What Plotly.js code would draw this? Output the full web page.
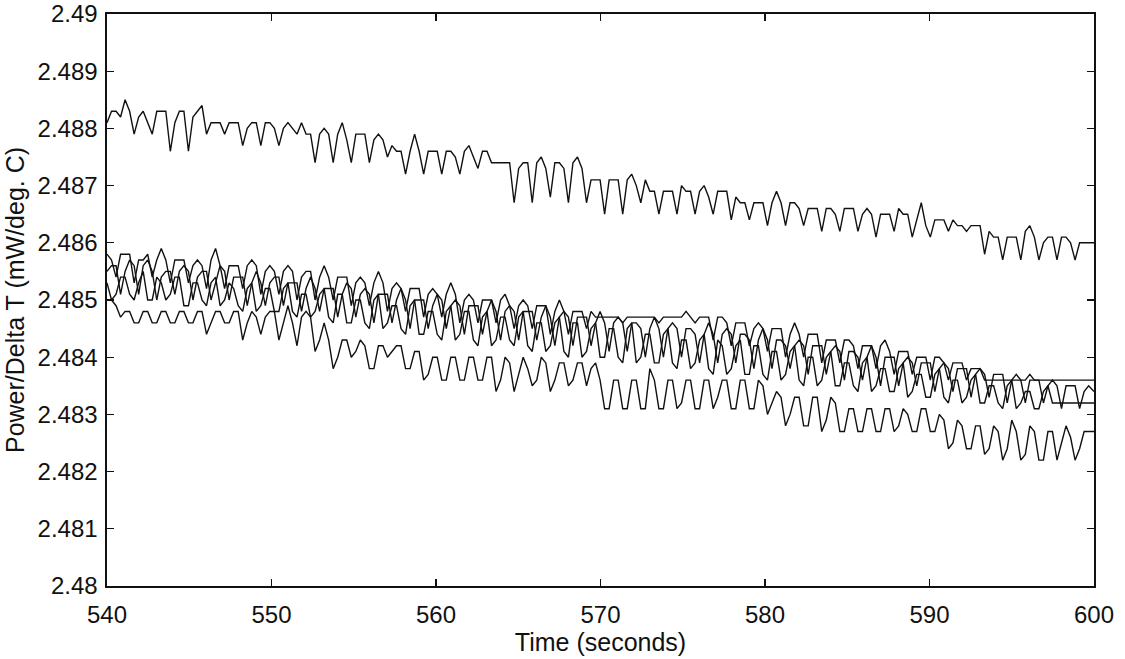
<!DOCTYPE html>
<html>
<head>
<meta charset="utf-8">
<script src="https://cdn.plot.ly/plotly-3.0.1.min.js"></script>
<style>
html,body{margin:0;padding:0;background:#fff;}
#chart{width:1125px;height:659px;}
</style>
</head>
<body>
<div id="chart"></div>
<script>
// Shared sample times (seconds)
var timeS = [
540,540.275,540.55,540.825,
541.1,541.375,541.65,541.925,
542.2,542.475,542.75,543.025,
543.3,543.575,543.85,544.125,
544.4,544.675,544.95,545.225,
545.5,545.775,546.05,546.325,
546.6,546.875,547.15,547.425,
547.7,547.975,548.25,548.525,
548.8,549.075,549.35,549.625,
549.9,550.175,550.45,550.725,
551,551.275,551.55,551.825,
552.1,552.375,552.65,552.925,
553.2,553.475,553.75,554.025,
554.3,554.575,554.85,555.125,
555.4,555.675,555.95,556.225,
556.5,556.775,557.05,557.325,
557.6,557.875,558.15,558.425,
558.7,558.975,559.25,559.525,
559.8,560.075,560.35,560.625,
560.9,561.175,561.45,561.725,
562,562.275,562.55,562.825,
563.1,563.375,563.65,563.925,
564.2,564.475,564.75,565.025,
565.3,565.575,565.85,566.125,
566.4,566.675,566.95,567.225,
567.5,567.775,568.05,568.325,
568.6,568.875,569.15,569.425,
569.7,569.975,570.25,570.525,
570.8,571.075,571.35,571.625,
571.9,572.175,572.45,572.725,
573,573.275,573.55,573.825,
574.1,574.375,574.65,574.925,
575.2,575.475,575.75,576.025,
576.3,576.575,576.85,577.125,
577.4,577.675,577.95,578.225,
578.5,578.775,579.05,579.325,
579.6,579.875,580.15,580.425,
580.7,580.975,581.25,581.525,
581.8,582.075,582.35,582.625,
582.9,583.175,583.45,583.725,
584,584.275,584.55,584.825,
585.1,585.375,585.65,585.925,
586.2,586.475,586.75,587.025,
587.3,587.575,587.85,588.125,
588.4,588.675,588.95,589.225,
589.5,589.775,590.05,590.325,
590.6,590.875,591.15,591.425,
591.7,591.975,592.25,592.525,
592.8,593.075,593.35,593.625,
593.9,594.175,594.45,594.725,
595,595.275,595.55,595.825,
596.1,596.375,596.65,596.925,
597.2,597.475,597.75,598.025,
598.3,598.575,598.85,599.125,
599.4,599.675,600
];

// Run 1 (upper trace)
var run1 = [
2.4881,2.4883,2.4883,2.4882,
2.4885,2.4883,2.4879,2.4882,
2.4883,2.4881,2.4879,2.4883,
2.4883,2.4883,2.4876,2.4881,
2.4883,2.4883,2.4876,2.4882,
2.4883,2.4884,2.4879,2.4881,
2.4881,2.4881,2.4879,2.4881,
2.4881,2.4881,2.4877,2.4880,
2.4881,2.4881,2.4877,2.4881,
2.4881,2.4880,2.4877,2.4880,
2.4881,2.4880,2.4879,2.4881,
2.4879,2.4879,2.4874,2.4879,
2.4880,2.4879,2.4874,2.4879,
2.4881,2.4878,2.4874,2.4879,
2.4879,2.4879,2.4874,2.4878,
2.4879,2.4878,2.4875,2.4877,
2.4876,2.4876,2.4872,2.4876,
2.4879,2.4876,2.4872,2.4876,
2.4876,2.4876,2.4872,2.4876,
2.4876,2.4875,2.4872,2.4876,
2.4877,2.4875,2.4873,2.4876,
2.4876,2.4874,2.4874,2.4874,
2.4874,2.4874,2.4867,2.4873,
2.4874,2.4874,2.4867,2.4874,
2.4875,2.4873,2.4868,2.4874,
2.4874,2.4873,2.4867,2.4874,
2.4875,2.4873,2.4867,2.4871,
2.4871,2.4871,2.4865,2.4871,
2.4871,2.4871,2.4865,2.4871,
2.4872,2.4870,2.4867,2.4871,
2.4869,2.4869,2.4865,2.4869,
2.4869,2.4869,2.4865,2.4870,
2.4869,2.4869,2.4865,2.4869,
2.4870,2.4868,2.4865,2.4869,
2.4869,2.4869,2.4864,2.4868,
2.4867,2.4867,2.4864,2.4867,
2.4867,2.4867,2.4863,2.4867,
2.4869,2.4867,2.4863,2.4867,
2.4867,2.4866,2.4863,2.4866,
2.4866,2.4866,2.4862,2.4866,
2.4866,2.4865,2.4862,2.4866,
2.4866,2.4866,2.4862,2.4865,
2.4866,2.4865,2.4861,2.4865,
2.4865,2.4865,2.4862,2.4866,
2.4865,2.4865,2.4861,2.4864,
2.4867,2.4863,2.4861,2.4864,
2.4864,2.4864,2.4862,2.4864,
2.4863,2.4863,2.4862,2.4863,
2.4863,2.4863,2.4858,2.4862,
2.4861,2.4861,2.4857,2.4861,
2.4861,2.4861,2.4857,2.4862,
2.4863,2.4861,2.4857,2.4860,
2.4861,2.4861,2.4857,2.4861,
2.4861,2.4860,2.4857,2.4860,
2.4860,2.4860,2.4860
];

// Run 2
var run2 = [
2.4858,2.4857,2.4854,2.4858,
2.4858,2.4858,2.4853,2.4857,
2.4857,2.4858,2.4854,2.4857,
2.4859,2.4857,2.4853,2.4857,
2.4857,2.4857,2.4853,2.4856,
2.4857,2.4856,2.4852,2.4857,
2.4859,2.4856,2.4852,2.4856,
2.4856,2.4856,2.4852,2.4856,
2.4857,2.4856,2.4851,2.4855,
2.4856,2.4855,2.4851,2.4855,
2.4856,2.4855,2.4850,2.4854,
2.4855,2.4855,2.4850,2.4854,
2.4856,2.4854,2.4850,2.4854,
2.4854,2.4854,2.4849,2.4853,
2.4854,2.4853,2.4849,2.4853,
2.4855,2.4853,2.4848,2.4852,
2.4853,2.4852,2.4848,2.4852,
2.4852,2.4852,2.4847,2.4851,
2.4852,2.4851,2.4847,2.4851,
2.4853,2.4851,2.4846,2.4850,
2.4851,2.4850,2.4846,2.4850,
2.4850,2.4850,2.4846,2.4850,
2.4851,2.4849,2.4845,2.4849,
2.4850,2.4849,2.4845,2.4849,
2.4849,2.4849,2.4844,2.4848,
2.4850,2.4848,2.4844,2.4848,
2.4848,2.4848,2.4845,2.4848,
2.4847,2.4847,2.4847,2.4847,
2.4847,2.4847,2.4846,2.4847,
2.4847,2.4847,2.4847,2.4847,
2.4847,2.4847,2.4846,2.4847,
2.4847,2.4847,2.4847,2.4847,
2.4848,2.4847,2.4846,2.4847,
2.4847,2.4847,2.4843,2.4847,
2.4847,2.4846,2.4842,2.4846,
2.4846,2.4846,2.4842,2.4845,
2.4846,2.4845,2.4841,2.4845,
2.4845,2.4845,2.4840,2.4844,
2.4846,2.4844,2.4840,2.4844,
2.4844,2.4844,2.4839,2.4843,
2.4843,2.4843,2.4839,2.4843,
2.4843,2.4842,2.4838,2.4842,
2.4842,2.4842,2.4838,2.4842,
2.4843,2.4841,2.4837,2.4841,
2.4841,2.4841,2.4837,2.4840,
2.4840,2.4840,2.4836,2.4840,
2.4840,2.4839,2.4836,2.4839,
2.4839,2.4839,2.4836,2.4838,
2.4838,2.4838,2.4836,2.4836,
2.4836,2.4836,2.4836,2.4836,
2.4836,2.4836,2.4836,2.4836,
2.4837,2.4836,2.4836,2.4836,
2.4836,2.4836,2.4836,2.4836,
2.4836,2.4836,2.4836,2.4836,
2.4836,2.4836,2.4836
];

// Run 3
var run3 = [
2.4855,2.4856,2.4856,2.4851,
2.4855,2.4857,2.4856,2.4851,
2.4856,2.4857,2.4855,2.4850,
2.4854,2.4855,2.4855,2.4851,
2.4855,2.4856,2.4855,2.4850,
2.4854,2.4855,2.4855,2.4850,
2.4853,2.4856,2.4855,2.4850,
2.4854,2.4854,2.4854,2.4849,
2.4853,2.4855,2.4853,2.4849,
2.4853,2.4854,2.4854,2.4849,
2.4853,2.4853,2.4853,2.4848,
2.4852,2.4854,2.4852,2.4848,
2.4852,2.4852,2.4852,2.4847,
2.4851,2.4853,2.4852,2.4847,
2.4851,2.4852,2.4851,2.4846,
2.4851,2.4851,2.4851,2.4846,
2.4850,2.4852,2.4850,2.4845,
2.4850,2.4850,2.4850,2.4845,
2.4849,2.4851,2.4850,2.4845,
2.4849,2.4850,2.4849,2.4844,
2.4849,2.4849,2.4849,2.4844,
2.4848,2.4850,2.4848,2.4843,
2.4848,2.4849,2.4848,2.4843,
2.4848,2.4848,2.4848,2.4843,
2.4847,2.4849,2.4847,2.4842,
2.4847,2.4848,2.4847,2.4842,
2.4847,2.4847,2.4847,2.4842,
2.4846,2.4848,2.4846,2.4841,
2.4846,2.4847,2.4846,2.4841,
2.4846,2.4846,2.4845,2.4840,
2.4845,2.4847,2.4845,2.4840,
2.4845,2.4846,2.4845,2.4840,
2.4845,2.4845,2.4844,2.4839,
2.4844,2.4846,2.4844,2.4839,
2.4844,2.4845,2.4844,2.4839,
2.4844,2.4844,2.4843,2.4838,
2.4843,2.4845,2.4843,2.4838,
2.4843,2.4843,2.4842,2.4838,
2.4842,2.4843,2.4842,2.4837,
2.4842,2.4842,2.4842,2.4837,
2.4841,2.4842,2.4841,2.4836,
2.4841,2.4841,2.4840,2.4836,
2.4840,2.4842,2.4840,2.4835,
2.4840,2.4840,2.4840,2.4835,
2.4839,2.4840,2.4839,2.4835,
2.4839,2.4839,2.4839,2.4834,
2.4838,2.4839,2.4838,2.4834,
2.4838,2.4838,2.4838,2.4833,
2.4837,2.4838,2.4837,2.4833,
2.4837,2.4837,2.4837,2.4832,
2.4836,2.4837,2.4836,2.4832,
2.4836,2.4836,2.4836,2.4832,
2.4835,2.4836,2.4835,2.4831,
2.4835,2.4835,2.4835,2.4831,
2.4834,2.4835,2.4834
];

// Run 4
var run4 = [
2.4853,2.4850,2.4851,2.4854,
2.4854,2.4851,2.4850,2.4853,
2.4855,2.4850,2.4850,2.4854,
2.4853,2.4850,2.4851,2.4854,
2.4854,2.4849,2.4849,2.4853,
2.4853,2.4850,2.4849,2.4853,
2.4854,2.4849,2.4850,2.4853,
2.4852,2.4849,2.4848,2.4852,
2.4853,2.4848,2.4849,2.4852,
2.4852,2.4848,2.4848,2.4852,
2.4853,2.4848,2.4847,2.4851,
2.4851,2.4847,2.4848,2.4851,
2.4852,2.4847,2.4846,2.4851,
2.4851,2.4846,2.4846,2.4850,
2.4850,2.4846,2.4845,2.4850,
2.4851,2.4845,2.4846,2.4849,
2.4849,2.4845,2.4844,2.4849,
2.4850,2.4844,2.4844,2.4848,
2.4848,2.4844,2.4843,2.4848,
2.4849,2.4843,2.4844,2.4848,
2.4848,2.4843,2.4842,2.4847,
2.4848,2.4842,2.4843,2.4847,
2.4847,2.4843,2.4842,2.4847,
2.4848,2.4842,2.4841,2.4846,
2.4846,2.4841,2.4842,2.4846,
2.4847,2.4841,2.4840,2.4846,
2.4846,2.4840,2.4841,2.4845,
2.4846,2.4840,2.4840,2.4845,
2.4845,2.4840,2.4839,2.4845,
2.4846,2.4839,2.4840,2.4844,
2.4844,2.4839,2.4839,2.4844,
2.4845,2.4839,2.4838,2.4843,
2.4843,2.4838,2.4839,2.4843,
2.4844,2.4838,2.4837,2.4843,
2.4842,2.4837,2.4838,2.4842,
2.4843,2.4837,2.4837,2.4842,
2.4842,2.4837,2.4836,2.4841,
2.4841,2.4836,2.4837,2.4841,
2.4842,2.4836,2.4835,2.4840,
2.4840,2.4835,2.4836,2.4840,
2.4841,2.4835,2.4835,2.4839,
2.4839,2.4835,2.4834,2.4839,
2.4840,2.4834,2.4835,2.4838,
2.4838,2.4834,2.4834,2.4838,
2.4839,2.4833,2.4834,2.4837,
2.4837,2.4833,2.4833,2.4837,
2.4838,2.4833,2.4832,2.4836,
2.4836,2.4832,2.4833,2.4836,
2.4837,2.4832,2.4832,2.4835,
2.4835,2.4832,2.4831,2.4835,
2.4836,2.4831,2.4832,2.4834,
2.4834,2.4831,2.4831,2.4834,
2.4835,2.4832,2.4832,2.4832,
2.4832,2.4832,2.4832,2.4832,
2.4832,2.4832,2.4832
];

// Run 5 (lowest trace)
var run5 = [
2.4850,2.4850,2.4849,2.4847,
2.4848,2.4848,2.4846,2.4846,
2.4848,2.4848,2.4846,2.4846,
2.4848,2.4848,2.4846,2.4846,
2.4848,2.4848,2.4846,2.4846,
2.4848,2.4848,2.4844,2.4846,
2.4848,2.4848,2.4846,2.4846,
2.4848,2.4848,2.4843,2.4846,
2.4848,2.4847,2.4844,2.4847,
2.4848,2.4848,2.4843,2.4846,
2.4849,2.4846,2.4842,2.4847,
2.4848,2.4847,2.4841,2.4843,
2.4846,2.4843,2.4838,2.4840,
2.4843,2.4843,2.4840,2.4841,
2.4843,2.4842,2.4838,2.4838,
2.4842,2.4842,2.4840,2.4841,
2.4842,2.4842,2.4838,2.4838,
2.4841,2.4841,2.4836,2.4837,
2.4840,2.4840,2.4836,2.4836,
2.4840,2.4840,2.4836,2.4836,
2.4840,2.4840,2.4836,2.4836,
2.4840,2.4840,2.4834,2.4836,
2.4840,2.4839,2.4834,2.4837,
2.4840,2.4838,2.4835,2.4836,
2.4840,2.4839,2.4834,2.4836,
2.4839,2.4839,2.4835,2.4836,
2.4839,2.4839,2.4835,2.4838,
2.4839,2.4836,2.4831,2.4831,
2.4836,2.4836,2.4831,2.4831,
2.4836,2.4836,2.4831,2.4831,
2.4838,2.4836,2.4831,2.4831,
2.4836,2.4836,2.4831,2.4832,
2.4836,2.4836,2.4831,2.4831,
2.4836,2.4836,2.4831,2.4833,
2.4836,2.4836,2.4831,2.4831,
2.4836,2.4836,2.4831,2.4831,
2.4836,2.4835,2.4830,2.4832,
2.4834,2.4833,2.4828,2.4830,
2.4833,2.4833,2.4828,2.4828,
2.4833,2.4833,2.4827,2.4829,
2.4833,2.4832,2.4827,2.4827,
2.4831,2.4831,2.4827,2.4827,
2.4831,2.4831,2.4827,2.4827,
2.4831,2.4831,2.4827,2.4828,
2.4831,2.4830,2.4827,2.4827,
2.4831,2.4831,2.4827,2.4827,
2.4830,2.4829,2.4824,2.4825,
2.4829,2.4828,2.4824,2.4824,
2.4828,2.4828,2.4823,2.4824,
2.4828,2.4827,2.4822,2.4824,
2.4829,2.4827,2.4822,2.4823,
2.4828,2.4827,2.4822,2.4822,
2.4827,2.4827,2.4822,2.4825,
2.4828,2.4826,2.4822,2.4824,
2.4827,2.4827,2.4827
];

var yTickVals = [2.48,2.481,2.482,2.483,2.484,2.485,2.486,2.487,2.488,2.489,2.49];
var yTickText = ['2.48','2.481','2.482','2.483','2.484','2.485','2.486','2.487','2.488','2.489','2.49'];
var xTickVals = [540,550,560,570,580,590,600];
var xTickText = ['540','550','560','570','580','590','600'];

var runs = [run1, run2, run3, run4, run5];
var traces = runs.map(function(r){
  return {x: timeS, y: r, type: 'scatter', mode: 'lines',
          line: {color: '#111', width: 1.4}, hoverinfo: 'skip'};
});

var fontFam = 'Liberation Sans, Arial, Helvetica, sans-serif';
var layout = {
  width: 1125, height: 659,
  margin: {l: 107, r: 31, t: 14, b: 73},
  paper_bgcolor: '#fff', plot_bgcolor: '#fff',
  showlegend: false,
  font: {family: fontFam, size: 24, color: '#111'},
  xaxis: {
    range: [540, 600], tickvals: xTickVals, ticktext: xTickText,
    ticks: 'inside', ticklen: 7, tickwidth: 1.2, tickcolor: '#111',
    showline: true, linecolor: '#111', linewidth: 1.6, mirror: 'ticks',
    showgrid: false, zeroline: false,
    ticklabelstandoff: 7, ticklabeloverflow: 'allow',
    tickfont: {family: fontFam, size: 24, color: '#111'},
    title: {text: 'Time (seconds)', font: {family: fontFam, size: 25, color: '#111'}, standoff: 2}
  },
  yaxis: {
    range: [2.48, 2.49], tickvals: yTickVals, ticktext: yTickText,
    ticks: 'inside', ticklen: 7, tickwidth: 1.2, tickcolor: '#111',
    showline: true, linecolor: '#111', linewidth: 1.6, mirror: 'ticks',
    showgrid: false, zeroline: false,
    ticklabelstandoff: 3, ticklabeloverflow: 'allow',
    tickfont: {family: fontFam, size: 24, color: '#111'},
    title: {text: 'Power/Delta T (mW/deg. C)', font: {family: fontFam, size: 25, color: '#111'}, standoff: 6}
  }
};

Plotly.newPlot('chart', traces, layout, {displayModeBar: false, staticPlot: true});
</script>
</body>
</html>
